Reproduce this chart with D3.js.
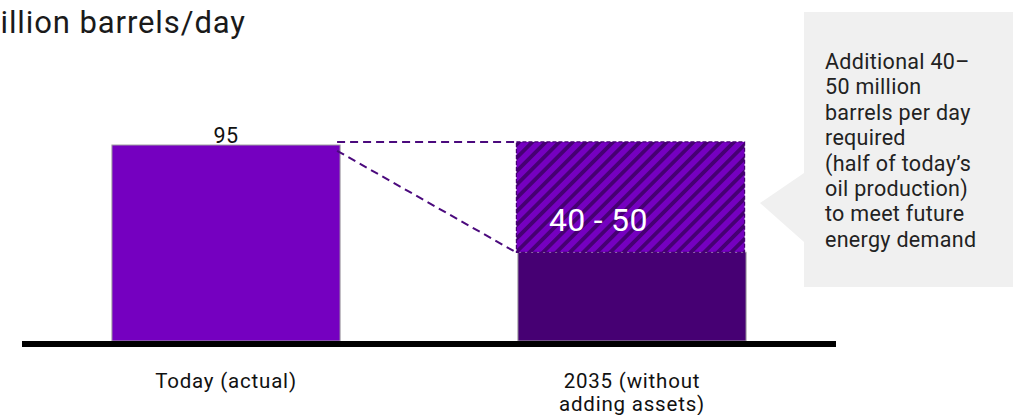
<!DOCTYPE html>
<html>
<head>
<meta charset="utf-8">
<script src="https://cdn.jsdelivr.net/npm/d3@7/dist/d3.min.js"></script>
<style>
  html, body { margin: 0; padding: 0; background: #fff; }
  svg { display: block; font-family: Roboto, "Open Sans", sans-serif; }
</style>
</head>
<body>
<svg id="chart" width="1020" height="415"></svg>
<script>
// ---- data ----
const categories = ["Today (actual)", "2035 (without adding assets)"];
const categoryLines = [["Today (actual)"], ["2035 (without", "adding assets)"]];
const actualValues = [95, 43];          // solid bar heights
const gapTop = [null, 96.5];            // top of hatched "gap" segment
const valueLabels = ["95", null];
const gapLabel = "40 - 50";
const connectorStart = [96.5, 92.2];    // values where the dashed connectors leave bar 1
const connectorEnd = [96.5, 43];        // values where they meet bar 2
const subtitle = "Million barrels/day";
const calloutLines = ["Additional 40–", "50 million", "barrels per day", "required",
                      "(half of today’s", "oil production)", "to meet future", "energy demand"];

// ---- layout ----
const svg = d3.select("#chart");
const baseY = 341;
const y = d3.scaleLinear().domain([0, 95]).range([baseY, 145]);
const x = d3.scaleBand().domain(categories).range([22, 836])
  .paddingInner(0.438).paddingOuter(0.2215);

// hatch pattern
const defs = svg.append("defs");
const pat = defs.append("pattern").attr("id", "hatch")
  .attr("patternUnits", "userSpaceOnUse").attr("width", 9.5).attr("height", 9.5)
  .attr("patternTransform", "rotate(45)");
pat.append("rect").attr("width", 9.5).attr("height", 9.5).attr("fill", "#7500c0");
pat.append("rect").attr("width", 3.8).attr("height", 9.5).attr("fill", "#460073");

// subtitle (first letter cut off at the left edge, as in the source image)
const sub = svg.append("text").attr("y", 33.3).attr("font-size", 31)
  .attr("letter-spacing", 0.9).attr("fill", "#1a1a1a").text(subtitle);
const mW = sub.node().getSubStringLength(0, 1);
sub.attr("x", -mW + 0.5);

// callout box
const g = svg.append("g");
g.append("rect").attr("x", 804).attr("y", 12).attr("width", 209).attr("height", 275).attr("fill", "#f0f0f0");
g.append("path").attr("d", "M804,173 L760,203 L804,242 Z").attr("fill", "#f0f0f0");
g.append("text").attr("font-size", 21.5).attr("letter-spacing", 0.3).attr("fill", "#222")
  .selectAll("tspan").data(calloutLines).join("tspan")
  .attr("x", 825).attr("y", (d, i) => 69 + i * 25.4).text(d => d);

// bars
const colors = ["#7500c0", "#460073"];
svg.selectAll("rect.bar").data(categories).join("rect").attr("class", "bar")
  .attr("x", d => x(d)).attr("width", x.bandwidth())
  .attr("y", (d, i) => y(actualValues[i]))
  .attr("height", (d, i) => baseY - y(actualValues[i]))
  .attr("fill", (d, i) => colors[i])
  .attr("stroke", "#a0a0a0").attr("stroke-width", 1);

// hatched gap segment
categories.forEach((c, i) => {
  if (gapTop[i] == null) return;
  svg.append("rect")
    .attr("x", x(c) - 1.5).attr("width", x.bandwidth())
    .attr("y", y(gapTop[i])).attr("height", y(actualValues[i]) - y(gapTop[i]))
    .attr("fill", "url(#hatch)")
    .attr("stroke", "#460073").attr("stroke-width", 1.2).attr("stroke-dasharray", "4,2");
  svg.append("text").attr("x", x(c) + 31).attr("y", 231)
    .attr("font-size", 32).attr("letter-spacing", 0.3).attr("fill", "#fff").text(gapLabel);
});

// value labels
categories.forEach((c, i) => {
  if (!valueLabels[i]) return;
  svg.append("text").attr("x", x(c) + x.bandwidth() / 2).attr("y", y(actualValues[i]) - 2)
    .attr("text-anchor", "middle").attr("font-size", 21.5).attr("letter-spacing", 0.4)
    .attr("fill", "#111").text(valueLabels[i]);
});

// dashed connectors
const x1 = x(categories[0]) + x.bandwidth() - 3;
const x2 = x(categories[1]) - 2;
connectorStart.forEach((v, i) => {
  svg.append("line").attr("x1", x1).attr("y1", y(v)).attr("x2", x2).attr("y2", y(connectorEnd[i]))
    .attr("stroke", "#4b0a7d").attr("stroke-width", 2).attr("stroke-dasharray", "8,5");
});

// axis baseline
svg.append("rect").attr("x", 22).attr("y", baseY).attr("width", 814).attr("height", 6).attr("fill", "#000");

// category labels
categories.forEach((c, i) => {
  svg.append("text").attr("text-anchor", "middle").attr("font-size", 20.5)
    .attr("letter-spacing", 0.8).attr("fill", "#111")
    .selectAll("tspan").data(categoryLines[i]).join("tspan")
    .attr("x", x(c) + x.bandwidth() / 2).attr("y", (d, j) => 387.5 + j * 23).text(d => d);
});
</script>
</body>
</html>
